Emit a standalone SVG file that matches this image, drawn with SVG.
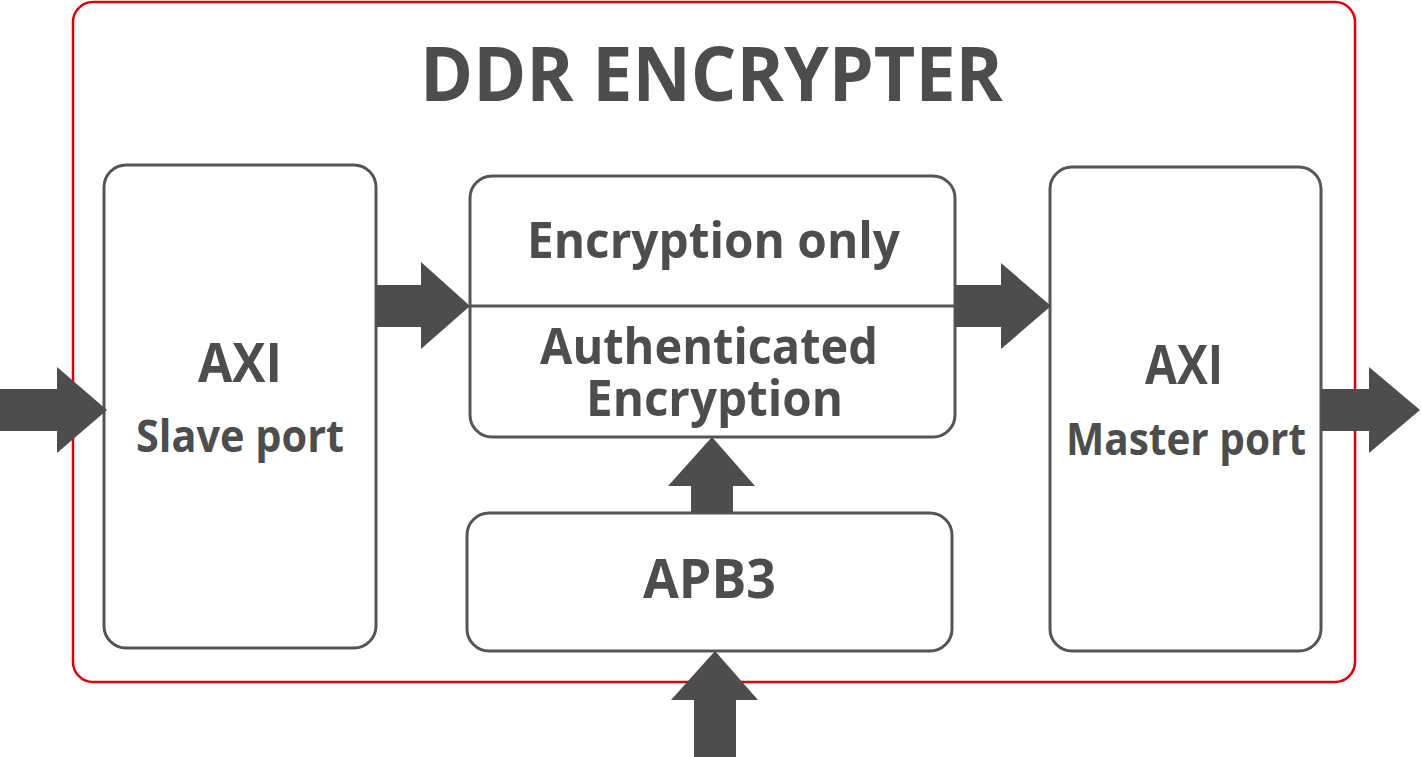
<svg xmlns="http://www.w3.org/2000/svg" width="1421" height="757" viewBox="0 0 1421 757">
<style>
.frame{fill:none;stroke:#d9000d;stroke-width:2.5}
.box{fill:#fff;stroke:#555;stroke-width:3}
.t{font-family:"Open Sans","Liberation Sans",sans-serif;font-weight:bold;fill:#4d4d4d;text-anchor:middle}
.arr{fill:#4d4d4d}
</style>
<rect width="1421" height="757" fill="#fff"/>
<rect class="frame" x="73" y="2" width="1282" height="680" rx="20"/>
<g id="title"><text class="t" x="711.5" y="101" font-size="75" textLength="583" lengthAdjust="spacingAndGlyphs">DDR ENCRYPTER</text></g>
<g id="slave">
<rect class="box" x="104" y="165" width="272" height="483" rx="22"/>
<text class="t" x="240" y="382" font-size="53" textLength="84" lengthAdjust="spacingAndGlyphs">AXI</text>
<text class="t" x="240" y="452" font-size="45" textLength="208" lengthAdjust="spacingAndGlyphs">Slave port</text>
</g>
<g id="core">
<rect class="box" x="470" y="176" width="485" height="261" rx="22"/>
<line x1="470" y1="306" x2="955" y2="306" stroke="#555" stroke-width="3"/>
<text class="t" x="713.5" y="258" font-size="51" textLength="373" lengthAdjust="spacingAndGlyphs">Encryption only</text>
<text class="t" x="709" y="364" font-size="51" textLength="338" lengthAdjust="spacingAndGlyphs">Authenticated</text>
<text class="t" x="714.5" y="416" font-size="51" textLength="257" lengthAdjust="spacingAndGlyphs">Encryption</text>
</g>
<g id="apb3">
<rect class="box" x="467" y="513" width="485" height="138" rx="22"/>
<text class="t" x="709.5" y="598" font-size="54" textLength="133" lengthAdjust="spacingAndGlyphs">APB3</text>
</g>
<g id="master">
<rect class="box" x="1050" y="167" width="271" height="484" rx="22"/>
<text class="t" x="1184" y="384" font-size="53" textLength="78" lengthAdjust="spacingAndGlyphs">AXI</text>
<text class="t" x="1186" y="455" font-size="45" textLength="240" lengthAdjust="spacingAndGlyphs">Master port</text>
</g>
<g id="connectors">
<polygon class="arr" points="0,389 57,389 57,367 107,410 57,453 57,431 0,431"/>
<polygon class="arr" points="376,285 421,285 421,262 470,306 421,349 421,327 376,327"/>
<polygon class="arr" points="955,285 1001,285 1001,263 1051,306 1001,349 1001,327 955,327"/>
<polygon class="arr" points="1321,389 1369,389 1369,367 1420,410 1369,453 1369,431 1321,431"/>
<polygon class="arr" points="691,513 691,486 668,486 712,437 755,486 733,486 733,513"/>
<polygon class="arr" points="694,757 694,700 671,700 715,651 758,700 736,700 736,757"/>
</g>
</svg>
